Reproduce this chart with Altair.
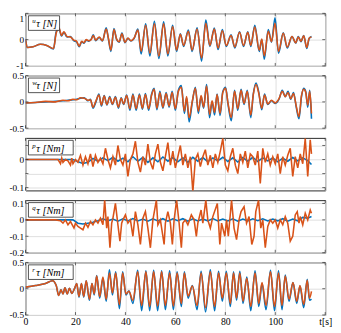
import altair as alt
import pandas as pd

# ---------------- axes / labels ----------------
X_DOMAIN = [0, 120]
X_TICKS = [0, 20, 40, 60, 80, 100, 120]
SUPS = ["u", "w", "p", "q", "r"]
UNITS = ["[N]", "[N]", "[Nm]", "[Nm]", "[Nm]"]
Y_DOMAINS = [[-1, 1], [-0.5, 0.5], [-0.11, 0.077], [-0.2, 0.12], [-0.5, 0.5]]
Y_TICKS = [[-1, 0, 1], [-0.5, 0, 0.5], [-0.1, -0.05, 0, 0.05], [-0.2, -0.1, 0, 0.1], [-0.5, 0, 0.5]]

# ---------------- panel 1: u ----------------
u_t = [0, 0.8, 3, 6, 8.5, 11.2, 12.3, 13.4, 14.4, 15.4,
       16.6, 18, 19.3, 20.4, 21.5, 22.5, 23.4, 24.3, 25.3, 26.3,
       27.1, 28.1, 29.5, 30.8, 32.3, 33.2, 34.2, 35.4, 36.5, 37.5,
       38.6, 39.8, 41.0, 42.2, 43.5, 45.0, 46.3, 48.1, 49.8, 51.6,
       53.4, 55.3, 57.0, 58.9, 60.5, 62.0, 63.3, 65.2, 66.7, 68.7,
       70.5, 72.2, 73.8, 75.6, 77.1, 78.8, 80.4, 82.3, 83.8, 85.7,
       87.3, 89.0, 90.2, 91.8, 93.6, 94.6, 95.6, 97.2, 98.5, 99.9,
       101.3, 103.2, 104.8, 106.7, 108.2, 109.2, 110.3, 111.4, 112.6, 113.6,
       114.5]
u_blue = [0.0, -0.30, -0.27, -0.18, -0.22, -0.36, 0.30, 0.40, 0.14, 0.28,
          0.10, 0.12, -0.04, -0.08, -0.27, -0.08, -0.14, -0.02, -0.06, 0.02,
          0.18, -0.04, 0.08, -0.05, 0.45, 0.02, -0.45, 0.42, 0.00, -0.10,
          0.25, -0.12, 0.05, -0.05, 0.05, 0.40, -0.55, 0.60, -0.62, 0.70,
          -0.72, 0.68, -0.62, 0.55, -0.45, 0.22, -0.26, 0.36, -0.45, 0.45,
          -0.82, 0.75, -0.26, 0.44, -0.38, 0.38, -0.26, 0.18, -0.32, 0.30,
          -0.26, 0.30, -0.26, 0.55, -0.45, 0.00, -0.75, 0.38, -0.10, 0.83,
          -0.52, 0.26, -0.32, 0.12, -0.13, 0.12, -0.08, 0.16, -0.34, 0.05,
          0.12]
u_orange = [0.0, -0.30, -0.27, -0.18, -0.22, -0.34, 0.25, 0.45, 0.16, 0.30,
            0.12, 0.10, -0.02, -0.06, -0.25, -0.06, -0.12, 0.00, -0.04, 0.00,
            0.16, -0.02, 0.10, -0.04, 0.40, 0.05, -0.40, 0.38, 0.02, -0.08,
            0.22, -0.10, 0.06, -0.04, 0.06, 0.36, -0.45, 0.55, -0.52, 0.60,
            -0.62, 0.60, -0.55, 0.50, -0.40, 0.20, -0.22, 0.32, -0.40, 0.40,
            -0.70, 0.62, -0.22, 0.40, -0.32, 0.34, -0.22, 0.16, -0.28, 0.28,
            -0.22, 0.28, -0.22, 0.48, -0.40, 0.02, -0.62, 0.32, -0.08, 0.62,
            -0.45, 0.24, -0.28, 0.12, -0.12, 0.10, -0.06, 0.15, -0.30, 0.06,
            0.10]

# ---------------- panel 2: w ----------------
w_t = [0, 4, 8, 12, 15, 17, 19, 20.5, 22, 23.5,
       25, 26, 27, 28.2, 29.4, 30.4, 31.5, 32.6, 33.7, 34.8,
       36, 37.2, 38.3, 39.3, 40.5, 41.8, 43, 44.3, 45.6, 46.8,
       48, 49.3, 50.5, 51.5, 52.6, 53.8, 55, 56.3, 57.5, 58.7,
       60, 61.2, 62.4, 63.6, 64.5, 65.5, 66.8, 68, 69.2, 70.3,
       71.3, 72.5, 73.7, 74.7, 75.7, 76.7, 77.9, 79, 80.1, 81.1,
       82.4, 83.7, 85, 86.3, 87.5, 88.8, 90.2, 91.2, 92.3, 93.4,
       94.6, 95.7, 97, 98.5, 100, 101.5, 102.8, 104, 105.1, 106.2,
       107.3, 108.4, 109.5, 110.5, 111.4, 112.2, 113, 113.8, 114.5]
w_blue = [-0.02, -0.01, 0.0, 0.01, 0.02, 0.03, 0.04, 0.05, 0.07, 0.08,
          0.02, 0.05, -0.12, 0.0, 0.15, -0.08, 0.12, -0.06, 0.10, -0.05,
          0.10, -0.12, 0.08, -0.05, 0.13, -0.16, 0.15, -0.16, 0.15, -0.14,
          0.16, -0.16, 0.15, 0.26, -0.15, 0.20, -0.12, 0.18, -0.10, 0.20,
          -0.16, 0.22, 0.31, -0.22, 0.08, -0.38, 0.0, 0.28, -0.22, 0.10,
          -0.12, 0.33, -0.30, 0.0, -0.25, 0.15, -0.26, 0.20, 0.28, -0.05,
          -0.36, 0.22, -0.16, 0.24, -0.05, 0.22, -0.30, 0.15, 0.36, 0.18,
          -0.15, 0.15, -0.05, 0.02, -0.03, 0.05, 0.22, 0.10, 0.20, 0.05,
          0.18, -0.10, -0.32, 0.10, 0.26, 0.20, -0.10, 0.22, -0.32]
w_orange = [-0.02, -0.01, 0.01, 0.0, 0.03, 0.02, 0.05, 0.04, 0.08, 0.07,
            0.03, 0.04, -0.10, 0.02, 0.13, -0.06, 0.11, -0.05, 0.09, -0.04,
            0.09, -0.10, 0.07, -0.04, 0.12, -0.13, 0.13, -0.13, 0.13, -0.12,
            0.14, -0.13, 0.13, 0.24, -0.12, 0.18, -0.10, 0.16, -0.08, 0.18,
            -0.13, 0.20, 0.28, -0.18, 0.10, -0.30, 0.02, 0.26, -0.18, 0.12,
            -0.10, 0.30, -0.24, 0.02, -0.20, 0.14, -0.22, 0.18, 0.26, -0.03,
            -0.30, 0.20, -0.13, 0.22, -0.03, 0.20, -0.25, 0.14, 0.33, 0.16,
            -0.12, 0.13, -0.04, 0.03, -0.02, 0.06, 0.20, 0.10, 0.18, 0.06,
            0.16, -0.08, -0.28, 0.12, 0.24, 0.18, -0.06, 0.20, -0.22]

# ---------------- panels 3/4: p, q (blue sampled every 2 s) ----------------
pq_blue_t = [0, 19, 21, 23, 25, 27, 29, 31, 33, 35,
             37, 39, 41, 43, 45, 47, 49, 51, 53, 55,
             57, 59, 61, 63, 65, 67, 69, 71, 73, 75,
             77, 79, 81, 83, 85, 87, 89, 91, 93, 95,
             97, 99, 101, 103, 105, 107, 109, 111, 113, 114.5]
p_blue = [0.0, 0.0, -0.008, -0.014, -0.010, 0.004, -0.006, 0.006, -0.004, 0.008,
          -0.006, 0.005, -0.008, 0.010, -0.006, 0.008, -0.010, 0.006, -0.008, 0.009,
          -0.006, 0.007, -0.008, 0.006, -0.010, 0.008, -0.006, 0.007, -0.008, 0.006,
          -0.005, 0.008, -0.007, 0.006, -0.009, 0.007, -0.006, 0.008, -0.007, 0.006,
          -0.005, 0.006, -0.008, 0.005, -0.006, 0.007, -0.005, 0.006, -0.004, -0.018]
q_blue = [0.0, 0.0, -0.02, -0.025, -0.02, -0.015, -0.005, 0.006, -0.006, 0.005,
          -0.008, 0.006, -0.006, 0.008, -0.007, 0.005, -0.008, 0.006, -0.006, 0.007,
          -0.008, 0.006, -0.005, 0.007, -0.008, 0.006, -0.007, 0.005, -0.006, 0.008,
          -0.006, 0.005, -0.007, 0.006, -0.008, 0.005, -0.006, 0.007, -0.005, 0.006,
          -0.007, 0.005, -0.006, 0.007, -0.008, 0.005, -0.006, 0.015, 0.010, 0.020]

p_orange_t = [0, 13, 14, 14.5, 15, 16, 17, 18, 18.5, 19] + list(range(20, 115)) + [114.5]
p_orange = ([0.0, 0.0, -0.015, 0.005, -0.01, 0.0, -0.005, -0.02, 0.005, -0.015]
            + [0.0, -0.01, 0.015, -0.02, 0.01, -0.015, 0.02, -0.025, 0.015, -0.01]
            + [0.005, -0.015, 0.04, 0.0, -0.03, 0.01, -0.02, 0.05, 0.0, -0.02]
            + [0.02, -0.06, 0.0, 0.02, 0.065, -0.01, -0.045, 0.01, -0.02, 0.055]
            + [-0.01, -0.035, 0.02, 0.055, -0.01, -0.04, 0.01, 0.06, -0.02, 0.03]
            + [-0.03, 0.01, 0.05, -0.02, 0.02, -0.03, 0.01, -0.115, 0.0, 0.02]
            + [-0.025, 0.01, 0.035, -0.02, 0.015, -0.03, 0.02, -0.01, 0.03, 0.075]
            + [-0.02, -0.04, 0.01, 0.04, -0.02, -0.05, 0.02, -0.01, 0.03, -0.03]
            + [0.02, 0.01, -0.02, 0.03, -0.085, 0.04, -0.01, 0.02, -0.02, 0.01]
            + [-0.015, 0.02, -0.05, 0.01, -0.02, 0.015, 0.04, -0.06, 0.01, -0.03]
            + [0.02, -0.015, 0.075, -0.06, 0.07]
            + [0.02])

q_orange_t = [0, 12, 14, 15, 16, 17, 18, 19.4, 20, 21,
              22, 23, 24, 25, 26, 27, 28, 29, 30, 31,
              31.7, 32.5, 33, 33.8, 34.5, 35, 36, 37, 37.8, 38.5,
              39, 40, 41, 42, 43, 44, 45, 46, 47, 48,
              49, 50, 51, 52.4, 53, 54, 55.5, 56, 57, 58,
              58.8, 59.5, 60.5, 61.5, 62.4, 63, 64, 65, 66.4, 67.5,
              68.4, 69, 70.3, 71, 72.2, 73, 74, 75, 76.8, 77.8,
              78.5, 79.8, 80.5, 81.2, 82.5, 83.5, 84.5, 85.5, 86.3, 87.5,
              88.5, 89.5, 90.6, 91.5, 92.2, 93.3, 94.2, 95, 96, 97,
              98, 99, 100, 101, 102, 103, 104, 105, 106, 107,
              108, 108.8, 109.5, 110, 111, 112, 113, 114, 114.5]
q_orange = [0.0, 0.0, -0.005, -0.02, 0.0, -0.03, -0.01, -0.05, -0.02, -0.04,
            -0.05, -0.06, -0.02, -0.045, -0.01, -0.03, 0.0, -0.02, 0.01, -0.03,
            0.12, -0.05, 0.02, -0.17, -0.02, 0.01, 0.10, -0.03, -0.13, -0.02,
            0.0, 0.03, -0.02, 0.0, -0.10, 0.05, -0.03, -0.15, 0.01, 0.05,
            -0.05, -0.17, 0.0, 0.12, -0.03, 0.0, -0.15, -0.02, 0.05, -0.02,
            -0.15, 0.0, 0.12, -0.02, -0.17, -0.02, 0.0, -0.03, 0.03, 0.0,
            -0.10, -0.02, 0.06, -0.02, 0.12, 0.0, -0.05, 0.02, 0.10, -0.15,
            -0.02, -0.10, 0.0, -0.10, 0.12, -0.05, -0.12, 0.0, 0.05, 0.08,
            -0.02, 0.02, -0.15, -0.10, 0.05, 0.12, -0.05, 0.0, -0.17, -0.04,
            0.0, -0.02, 0.0, -0.05, 0.0, -0.03, 0.02, -0.02, -0.13, -0.10,
            0.03, 0.05, -0.02, 0.02, -0.03, 0.04, 0.0, 0.06, 0.04]

# ---------------- panel 5: r ----------------
r_t = [0, 4, 8, 10.8, 12.3, 13.3, 14.2, 15.0, 15.8, 16.7,
       17.6, 18.5, 19.6, 20.5, 21.4, 22.4, 23.3, 24.3, 25.6, 26.6,
       27.5, 28.5, 29.7, 31.0, 32.3, 33.6, 34.8, 36.1, 37.6, 38.9,
       40.2, 41.4, 43.0, 44.9, 46.5, 48.2, 49.7, 51.3, 52.9, 54.5,
       56.0, 57.7, 59.2, 60.7, 62.4, 63.6, 65.1, 66.8, 68.7, 70.3,
       72.1, 74.0, 75.7, 77.3, 78.8, 80.4, 82.0, 83.3, 84.5, 85.8,
       87.1, 88.6, 90.2, 91.9, 93.4, 94.7, 96.3, 98.1, 99.7, 101.3,
       102.7, 104.0, 105.5, 107.1, 108.6, 109.9, 111.4, 112.8, 113.7, 114.5]
r_blue = [0.03, 0.06, 0.10, 0.15, 0.06, -0.13, -0.02, -0.10, 0.02, -0.10,
          0.01, -0.09, 0.00, 0.10, -0.16, 0.10, -0.16, 0.15, -0.22, 0.10,
          -0.12, 0.25, -0.18, 0.20, -0.24, 0.36, -0.12, 0.32, -0.38, 0.32,
          -0.12, -0.04, -0.28, 0.35, -0.42, 0.34, -0.42, 0.35, -0.42, 0.34,
          -0.40, 0.34, -0.40, 0.32, -0.34, 0.32, -0.18, 0.06, -0.40, 0.33,
          -0.44, 0.36, -0.42, 0.33, -0.24, 0.33, -0.34, 0.32, -0.22, 0.33,
          -0.28, 0.22, -0.42, 0.34, -0.34, 0.10, -0.40, 0.35, -0.42, 0.34,
          -0.40, 0.26, -0.24, 0.12, -0.28, 0.05, -0.36, 0.18, -0.22, -0.20]
r_orange = [0.03, 0.06, 0.10, 0.15, 0.06, -0.13, -0.02, -0.10, 0.02, -0.10,
            0.01, -0.09, 0.00, 0.10, -0.15, 0.10, -0.15, 0.15, -0.20, 0.10,
            -0.10, 0.24, -0.15, 0.22, -0.20, 0.30, -0.08, 0.30, -0.30, 0.30,
            -0.10, -0.05, -0.22, 0.32, -0.32, 0.32, -0.34, 0.32, -0.33, 0.32,
            -0.32, 0.30, -0.33, 0.30, -0.28, 0.30, -0.14, 0.05, -0.32, 0.30,
            -0.36, 0.32, -0.34, 0.30, -0.18, 0.30, -0.28, 0.30, -0.18, 0.30,
            -0.24, 0.20, -0.34, 0.30, -0.28, 0.12, -0.32, 0.32, -0.34, 0.30,
            -0.32, 0.24, -0.20, 0.12, -0.24, 0.06, -0.30, 0.16, -0.18, -0.05]

SERIES = [
    (u_t, u_blue, u_t, u_orange),
    (w_t, w_blue, w_t, w_orange),
    (pq_blue_t, p_blue, p_orange_t, p_orange),
    (pq_blue_t, q_blue, q_orange_t, q_orange),
    (r_t, r_blue, r_t, r_orange),
]
SMOOTH = [True, True, False, False, True]

# ---------------- style ----------------
W, H = 308, 54
BLUE, ORANGE = "#0072BD", "#D95319"
INK = "#262626"
GRID = "#dedede"
FONT = "Liberation Serif"
FS = 9.5
NUM = "datum.value < 0 ? '-' + format(-datum.value, '~g') : format(datum.value, '~g')"


def y_label_expr(i):
    if i == 2:
        return "abs(datum.value) > 0.01 && abs(datum.value) < 0.09 ? '' : (" + NUM + ")"
    return NUM


def panel(i, last):
    tb, vb, to, vo = SERIES[i]
    df_b = pd.DataFrame({"t": tb, "v": vb})
    df_o = pd.DataFrame({"t": to, "v": vo})
    xscale = alt.Scale(domain=X_DOMAIN, nice=False, zero=False)
    yscale = alt.Scale(domain=Y_DOMAINS[i], nice=False, zero=False)
    xaxis = alt.Axis(values=X_TICKS, grid=True, gridColor=GRID, gridWidth=1,
                     labels=last, ticks=False, domain=False, title=None,
                     labelExpr="datum.value == 120 ? 't[s]' : format(datum.value, 'd')",
                     labelFont=FONT, labelFontSize=10, labelColor="black",
                     labelPadding=2, labelFlush=False)
    ykw = dict(values=Y_TICKS[i], grid=True, gridColor=GRID, gridWidth=1,
               ticks=False, domain=False, title=None, labelExpr=y_label_expr(i),
               labelFont=FONT, labelFontSize=FS, labelColor="black", labelPadding=2)
    if i == 0:
        ykw["labelBaseline"] = {"condition": {"test": "datum.value >= 1", "value": "top"},
                                "value": "middle"}
    yaxis = alt.Axis(**ykw)

    X = lambda f: alt.X(f, scale=xscale, axis=xaxis)
    Y = lambda f: alt.Y(f, scale=yscale, axis=yaxis)

    interp = "monotone" if SMOOTH[i] else "linear"
    line_b = alt.Chart(df_b).mark_line(color=BLUE, strokeWidth=1.6, clip=True, interpolate=interp).encode(
        x=X("t:Q"), y=Y("v:Q"))
    line_o = alt.Chart(df_o).mark_line(color=ORANGE, strokeWidth=1.6, clip=True, interpolate=interp).encode(
        x=X("t:Q"), y=Y("v:Q"))

    xt = pd.DataFrame({"xt": X_TICKS})
    yt = pd.DataFrame({"yt": Y_TICKS[i]})
    tk = dict(color=INK, strokeWidth=0.7)
    t_top = alt.Chart(xt).mark_rule(**tk).encode(x=X("xt:Q"), y=alt.value(0), y2=alt.value(3))
    t_bot = alt.Chart(xt).mark_rule(**tk).encode(x=X("xt:Q"), y=alt.value(H), y2=alt.value(H - 3))
    t_left = alt.Chart(yt).mark_rule(**tk).encode(y=Y("yt:Q"), x=alt.value(0), x2=alt.value(3))
    t_right = alt.Chart(yt).mark_rule(**tk).encode(y=Y("yt:Q"), x=alt.value(W), x2=alt.value(W - 3))

    lab = pd.DataFrame({"sup": [SUPS[i]], "txt": ["τ " + UNITS[i]]})
    box_w = 32 if UNITS[i] == "[N]" else 46
    box = alt.Chart(lab).mark_rect(fill="white", stroke=INK, strokeWidth=0.8).encode(
        x=alt.value(3), x2=alt.value(3 + box_w), y=alt.value(2.5), y2=alt.value(17.5))
    sup = alt.Chart(lab).mark_text(align="left", baseline="alphabetic", font=FONT, fontStyle="italic",
                                   fontSize=7, color="black").encode(
        x=alt.value(7), y=alt.value(10), text="sup:N")
    main = alt.Chart(lab).mark_text(align="left", baseline="alphabetic", font=FONT, fontStyle="italic",
                                    fontSize=10.5, color="black").encode(
        x=alt.value(11), y=alt.value(14), text="txt:N")

    return alt.layer(line_b, line_o, t_top, t_bot, t_left, t_right, box, sup, main).properties(width=W, height=H)


chart = alt.vconcat(*[panel(i, i == 4) for i in range(5)], spacing=10, bounds="flush").properties(
    padding=0
).configure_view(stroke=INK, strokeWidth=1)

chart.save("out.html", embed_options={"renderer": "svg", "actions": False})
